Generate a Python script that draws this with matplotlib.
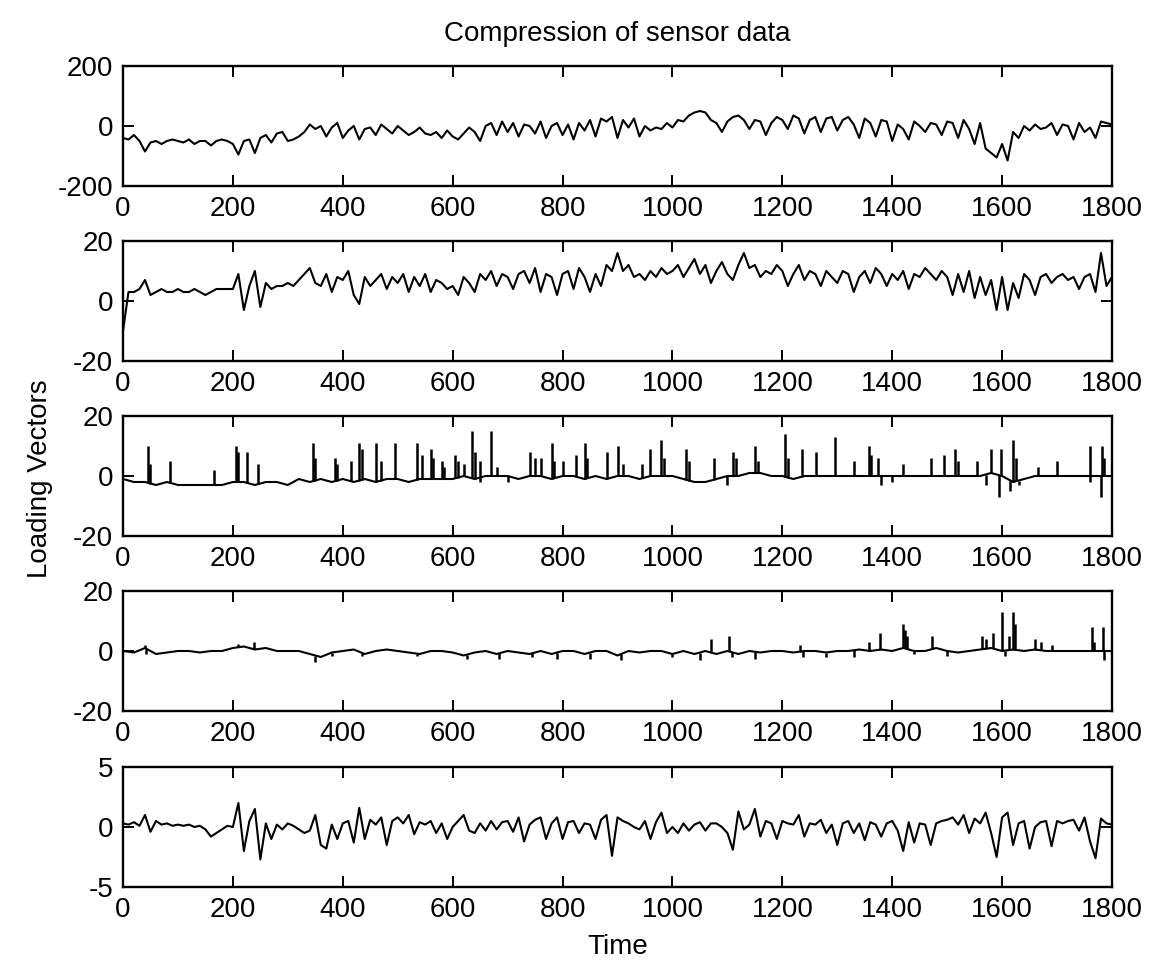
import numpy as np
import matplotlib
matplotlib.use('Agg')
import matplotlib.pyplot as plt

plt.rcParams['font.family'] = ['Liberation Sans', 'DejaVu Sans']
plt.rcParams['axes.unicode_minus'] = False

# sample times
t10 = np.arange(0, 1801, 10)
t20 = np.arange(0, 1801, 20)

# loading vector 1 (step 10)
lv1 = [-40, -45, -30, -50, -85, -55, -50, -60, -50, -45,
       -50, -55, -45, -60, -50, -50, -65, -50, -45, -50,
       -60, -95, -50, -45, -90, -40, -30, -55, -25, -20,
       -50, -45, -35, -20, 5, -10, 0, -35, -5, 10,
       -40, -15, 0, -45, -10, -5, -30, 5, -10, -25,
       0, -15, -30, -20, -5, -25, -30, -20, -40, -15,
       -35, -45, -25, -5, -20, -50, 0, 10, -30, 15,
       -20, 10, -35, 5, 0, -25, 15, -40, 0, 10,
       -30, 5, -45, 10, -15, 20, -35, 25, 15, 30,
       -40, 20, -5, 25, -35, 0, -15, -5, -10, 10,
       -5, 20, 15, 35, 45, 50, 45, 20, 10, -20,
       15, 30, 35, 20, -10, 20, 15, -30, 10, 30,
       20, -10, 35, 25, -25, 20, 30, -20, 25, 30,
       -15, 20, 30, 5, -40, 25, 10, -35, 20, 15,
       -50, 5, -10, -45, 15, 0, -20, 10, 5, -30,
       15, 10, -40, 20, -10, -60, 10, -75, -90, -105,
       -60, -115, -20, -40, 0, -15, 5, -10, -5, 10,
       -30, 5, 0, -45, 10, -20, -5, -40, 15, 10,
       5]

# loading vector 2 (step 10)
lv2 = [-10, 3, 3, 4, 7, 2, 3, 4, 3, 3,
       4, 3, 3, 4, 3, 2, 3, 4, 4, 4,
       4, 9, -3, 5, 10, -2, 6, 4, 5, 5,
       6, 5, 7, 9, 11, 6, 5, 9, 3, 8,
       7, 10, 2, -1, 8, 5, 7, 9, 4, 8,
       6, 9, 3, 8, 5, 9, 3, 7, 6, 4,
       5, 2, 8, 6, 3, 9, 7, 10, 5, 9,
       8, 4, 9, 10, 6, 11, 3, 9, 8, 2,
       9, 10, 4, 11, 8, 3, 9, 5, 12, 10,
       16, 10, 12, 8, 9, 7, 10, 8, 11, 9,
       10, 12, 8, 11, 14, 9, 12, 6, 10, 13,
       9, 7, 12, 16, 11, 12, 8, 10, 9, 12,
       10, 5, 9, 12, 7, 10, 9, 5, 10, 8,
       6, 10, 9, 3, 8, 10, 6, 11, 9, 5,
       9, 7, 10, 4, 9, 8, 11, 9, 7, 10,
       8, 2, 9, 3, 10, 1, 8, 2, 7, -3,
       8, -3, 6, 1, 9, 7, 2, 8, 9, 6,
       8, 9, 7, 8, 4, 8, 9, 3, 16, 5,
       8]

# loading vector 3: baseline (step 20) and spikes
lv3_base = [-1, -2, -2, -3, -2, -3, -3, -3, -3, -3,
            -2, -2, -3, -2, -2, -3, -1, -2, -1, -2,
            -1, -2, -1, -2, -1, -1, -2, -1, -1, -1,
            -1, 0, -1, 0, 0, 0, -1, 0, 0, -1,
            0, 0, -1, 0, -1, 0, 0, -1, 0, 0,
            0, -1, -2, -2, -1, 0, 0, 1, 1, 0,
            0, -1, 0, 0, 0, 0, 0, 0, 0, 0,
            0, 0, 0, 0, 0, 0, 0, 0, 0, 1,
            0, -2, -1, 0, 0, 0, 0, 0, 0, 0,
            0]
lv3_spike_t = [45, 50, 85, 165, 205, 210, 225, 245, 345, 350, 385, 390, 415,
               430, 435, 460, 470, 495, 535, 545, 560, 565, 580, 585, 605, 610,
               620, 635, 640, 650, 670, 680, 740, 750, 760, 780, 785, 800, 825,
               840, 845, 880, 900, 910, 945, 960, 980, 985, 1025, 1030, 1075,
               1110, 1115, 1150, 1155, 1205, 1210, 1235, 1262, 1295, 1330, 1358,
               1362, 1375, 1420, 1470, 1495, 1515, 1520, 1555, 1580, 1598, 1620,
               1625, 1665, 1700, 1760, 1782, 1786,
               650, 700, 1100, 1380, 1400, 1570, 1595, 1615, 1630, 1760, 1780]
lv3_spike_v = [10, 4, 5, 2, 10, 8, 8, 4, 11, 6, 6, 4, 5,
               11, 9, 11, 5, 11, 11, 7, 9, 6, 5, 3, 7, 5,
               4, 15, 8, 5, 15, 3, 8, 6, 6, 11, 5, 5, 7,
               11, 6, 8, 10, 4, 4, 9, 12, 6, 9, 5, 6,
               8, 6, 10, 5, 14, 6, 9, 8, 13, 5, 10,
               7, 6, 4, 6, 7, 9, 5, 5, 9, 9, 12,
               6, 3, 5, 10, 10, 6,
               -2, -2, -3, -3, -2, -3, -7, -5, -3, -2, -7]

# loading vector 4: baseline (step 20) and spikes
lv4_base = [0, -0.5, 1, -1, -0.5, 0, 0, -0.5, 0, 0,
            1, 1.5, 0.5, 1, 0, 0, 0, -1, -2, -0.5,
            0, 0.5, -1, 0, 0.5, 0, -0.5, -1, 0, 0,
            -0.5, -1.5, -0.5, 0, -1, 0, -0.5, -1, 0, -1,
            0, 0, -1, 0, 0, -1.5, 0, -0.5, 0, 0,
            -1, 0, -1, 0, -1, 0, -1, 0, -0.5, 0,
            0, -0.5, 0, 0, -0.5, 0, 0, 0.5, 0, 0.5,
            0, 1, 0, 0, 1, 0, -0.5, 0, 0.5, 1,
            0, 0.5, 0, 0.5, 0, 0, 0, 0, 0, 0,
            0]
lv4_spike_t = [40, 42, 210, 238, 350, 380, 435, 535, 626, 685, 745, 790, 850,
               906, 1000, 1050, 1070, 1103, 1108, 1150, 1233, 1237, 1280, 1330,
               1357, 1377, 1420, 1423, 1426, 1440, 1473, 1500, 1563, 1570, 1583,
               1600, 1605, 1612, 1620, 1624, 1660, 1670, 1690, 1763, 1768, 1783,
               1785]
lv4_spike_v = [2, -1, 2.5, 3, -3.5, -1.5, -1.5, -1.5, -2.5, -2.5, -2, -2.5, -2.5,
               -3, -2, -3, 4, 5, -2, -2.5, 2, -2, -2, -2,
               3, 6, 9, 7, 5, -1, 5, -1.5, 5, 4, 6,
               13, -1.5, 5, 13, 9, 4, 3, 2, 8, 3, 8,
               -3]

# loading vector 5 (step 10)
lv5 = [0.3, 0.2, 0.4, 0.1, 1.0, -0.4, 0.5, 0.2, 0.3, 0.1,
       0.2, 0.1, 0.2, 0.0, 0.1, -0.2, -0.8, -0.5, -0.2, 0.1,
       0.0, 2.0, -2.0, 0.5, 1.5, -2.7, 0.3, -1.0, 0.2, -0.2,
       0.3, 0.1, -0.2, -0.5, -0.3, 1.0, -1.5, -1.8, 0.2, -1.0,
       0.3, 0.5, -1.3, 1.6, -1.0, 0.6, 0.2, 0.8, -1.5, 0.5,
       0.8, 0.3, 1.0, -0.6, 0.4, 0.2, 0.5, -0.5, 0.3, -1.0,
       0.0, 0.5, 1.0, -0.3, -0.5, 0.3, -0.3, 0.5, -0.2, 0.4,
       0.5, -0.4, 0.8, -1.2, 0.2, 0.6, 0.8, -1.0, 0.3, 0.8,
       -1.0, 0.4, 0.5, -0.5, 0.3, 0.2, -1.0, 0.6, 1.0, -2.4,
       0.8, 0.5, 0.3, 0.0, -0.2, 0.5, -1.0, 0.4, 1.2, -0.5,
       0.0, -0.5, 0.3, -0.3, 0.2, 0.4, -0.3, 0.3, 0.3, 0.0,
       -0.5, -1.9, 1.3, -0.2, 0.2, 1.5, -0.8, 0.5, 0.3, -1.0,
       0.5, 0.3, 0.2, 1.0, -0.8, 0.3, 0.2, 0.6, -0.5, 0.2,
       -1.5, 0.3, 0.5, -0.5, 0.3, -1.1, 0.4, 0.2, -0.8, 0.3,
       0.5, -0.3, -2.0, 0.4, -1.3, 0.3, 0.2, -1.5, 0.3, 0.5,
       0.6, 0.8, 0.2, 1.0, -0.5, 0.7, 0.3, 1.2, -0.5, -2.5,
       0.8, 1.2, -1.5, 0.3, 0.5, -1.8, 0.0, 0.4, 0.5, -1.6,
       0.5, 0.3, 0.5, 0.6, -0.3, 0.8, -1.2, -2.6, 0.7, 0.3,
       0.2]

ylims = [(-200, 200), (-20, 20), (-20, 20), (-20, 20), (-5, 5)]
yticks = [[-200, 0, 200], [-20, 0, 20], [-20, 0, 20], [-20, 0, 20], [-5, 0, 5]]
xticks = np.arange(0, 1801, 200)

W, H = 1166, 969
fig = plt.figure(figsize=(W / 100, H / 100), dpi=100)

left, right = 123, 1112
tops = [66, 241, 416, 591, 767]
ph = 120

axes = []
for i, top in enumerate(tops):
    ax = fig.add_axes([left / W, 1 - (top + ph) / H, (right - left) / W, ph / H])
    axes.append(ax)

axes[0].plot(t10, lv1, color='k', lw=1.5)
axes[1].plot(t10, lv2, color='k', lw=1.5)
axes[2].plot(t20, lv3_base, color='k', lw=1.5)
axes[2].vlines(lv3_spike_t, np.interp(lv3_spike_t, t20, lv3_base), lv3_spike_v,
               color='k', lw=1.8)
axes[3].plot(t20, lv4_base, color='k', lw=1.5)
axes[3].vlines(lv4_spike_t, np.interp(lv4_spike_t, t20, lv4_base), lv4_spike_v,
               color='k', lw=1.8)
axes[4].plot(t10, lv5, color='k', lw=1.5)

for i, ax in enumerate(axes):
    ax.set_xlim(0, 1800)
    ax.set_ylim(*ylims[i])
    ax.set_xticks(xticks)
    ax.set_yticks(yticks[i])
    ax.tick_params(direction='in', top=True, right=True, length=8, width=1.4,
                   labelsize=20, pad=7)
    for s in ax.spines.values():
        s.set_linewidth(1.7)

axes[0].set_title('Compression of sensor data', fontsize=20, pad=18)
axes[4].set_xlabel('Time', fontsize=20, labelpad=8)
fig.text(40 / W, 1 - 479 / H, 'Loading Vectors', rotation=90, fontsize=20,
         ha='center', va='center')

fig.savefig('out.png', dpi=100)
